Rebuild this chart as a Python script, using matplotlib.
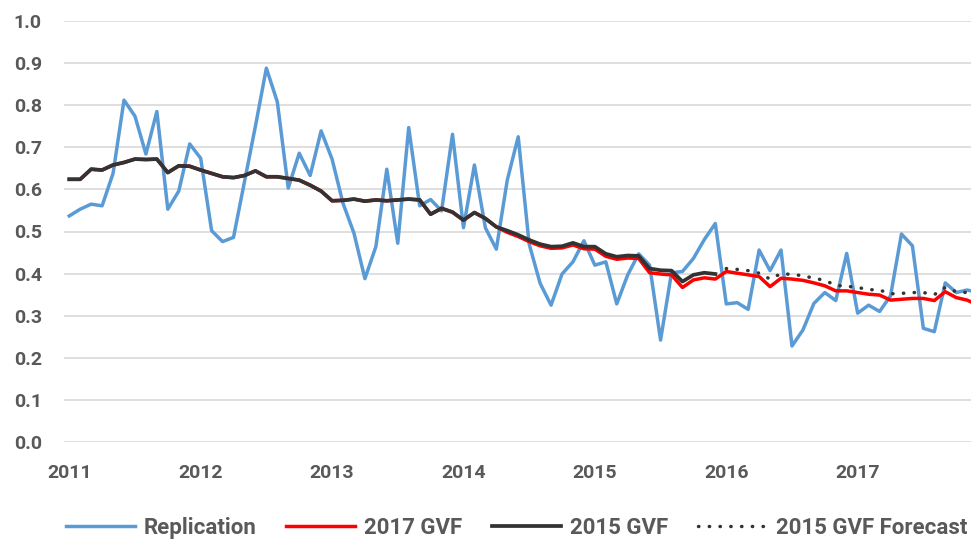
import numpy as np
import matplotlib
matplotlib.use("Agg")
import matplotlib.pyplot as plt

plt.rcParams['font.family'] = ['Roboto', 'DejaVu Sans']

# Données mensuelles, janvier 2011 -> décembre 2017
annees = ["2011", "2012", "2013", "2014", "2015", "2016", "2017"]

replication = [0.537, 0.553, 0.565, 0.561, 0.638, 0.812, 0.774, 0.684, 0.785, 0.553, 0.596, 0.708,
               0.674, 0.502, 0.476, 0.486, 0.618, 0.750, 0.888, 0.808, 0.603, 0.686, 0.633, 0.739,
               0.672, 0.567, 0.496, 0.388, 0.464, 0.648, 0.472, 0.747, 0.561, 0.576, 0.549, 0.731,
               0.509, 0.658, 0.509, 0.458, 0.622, 0.725, 0.470, 0.377, 0.325, 0.399, 0.428, 0.478,
               0.420, 0.428, 0.328, 0.397, 0.447, 0.420, 0.242, 0.402, 0.405, 0.436, 0.481, 0.519,
               0.328, 0.331, 0.315, 0.456, 0.407, 0.456, 0.228, 0.266, 0.329, 0.355, 0.336, 0.448,
               0.306, 0.325, 0.310, 0.347, 0.494, 0.466, 0.270, 0.262, 0.378, 0.355, 0.361, 0.355]

gvf_2015 = [0.624, 0.624, 0.648, 0.646, 0.658, 0.664, 0.672, 0.671, 0.672, 0.640, 0.656, 0.655,
            0.646, 0.638, 0.630, 0.628, 0.633, 0.644, 0.630, 0.630, 0.626, 0.622, 0.610, 0.596,
            0.573, 0.574, 0.577, 0.572, 0.575, 0.573, 0.575, 0.577, 0.575, 0.541, 0.555, 0.546,
            0.527, 0.545, 0.531, 0.511, 0.502, 0.492, 0.480, 0.470, 0.464, 0.465, 0.473, 0.464,
            0.464, 0.447, 0.440, 0.443, 0.442, 0.412, 0.408, 0.407, 0.381, 0.397, 0.402, 0.399]

gvf_2017 = [0.624, 0.624, 0.648, 0.646, 0.658, 0.664, 0.672, 0.671, 0.672, 0.640, 0.656, 0.655,
            0.646, 0.638, 0.630, 0.628, 0.633, 0.644, 0.630, 0.630, 0.626, 0.622, 0.610, 0.596,
            0.573, 0.574, 0.577, 0.572, 0.575, 0.573, 0.575, 0.577, 0.575, 0.541, 0.555, 0.546,
            0.527, 0.545, 0.531, 0.511, 0.498, 0.488, 0.476, 0.466, 0.460, 0.461, 0.468, 0.459,
            0.458, 0.441, 0.434, 0.437, 0.436, 0.402, 0.399, 0.397, 0.367, 0.385, 0.390, 0.387,
            0.405, 0.401, 0.397, 0.393, 0.369, 0.389, 0.387, 0.384, 0.378, 0.371, 0.359, 0.359,
            0.355, 0.351, 0.349, 0.337, 0.339, 0.341, 0.341, 0.336, 0.357, 0.343, 0.337, 0.325]

# Prévision 2015 GVF : janvier 2016 -> décembre 2017
gvf_2015_prev = [0.412, 0.410, 0.407, 0.401, 0.387, 0.400, 0.398, 0.395, 0.389, 0.384, 0.372, 0.370,
                 0.367, 0.362, 0.361, 0.352, 0.353, 0.355, 0.355, 0.350, 0.367, 0.357, 0.355, 0.350]

mois = np.arange(len(replication))
gris = '#595959'

fig = plt.figure(figsize=(9.71, 5.40), dpi=100)
ax = fig.add_axes([64 / 971, 98 / 540, 907 / 971, 421 / 540])

ax.plot(mois, replication, color='#5B9BD5', lw=2.5, label='Replication')
ax.plot(mois, gvf_2017, color='#FF0000', lw=2.5, label='2017 GVF')
ax.plot(mois[:len(gvf_2015)], gvf_2015, color='#333333', lw=2.7, label='2015 GVF')
ax.plot(mois[60:], gvf_2015_prev, color='#333333', lw=2.5, linestyle=(0, (0.1, 3.0)),
        dash_capstyle='round', label='2015 GVF Forecast')

ax.set_ylim(0, 1.0)
ax.set_xlim(-0.48, 82.35)
ax.set_yticks(np.arange(0, 1.01, 0.1))
ax.set_yticklabels([f"{v:.1f}" for v in np.arange(0, 1.01, 0.1)])
ax.set_xticks(np.arange(0, 84, 12))
ax.set_xticklabels(annees)
ax.grid(axis='y', color='#D9D9D9', linewidth=1.2)
ax.set_axisbelow(True)
for s in ax.spines.values():
    s.set_visible(False)
ax.tick_params(axis='both', length=0, colors=gris, labelsize=14)
ax.tick_params(axis='y', pad=16)
ax.tick_params(axis='x', pad=16)
for t in ax.get_xticklabels() + ax.get_yticklabels():
    t.set_fontweight('bold')

leg = fig.legend(loc='center', bbox_to_anchor=(0.532, 12 / 540), ncol=4, frameon=False,
                 handlelength=3.1, columnspacing=1.35, handletextpad=0.4,
                 prop={'weight': 'bold', 'size': 16})
for t in leg.get_texts():
    t.set_color(gris)

fig.savefig('out.png', dpi=100)
